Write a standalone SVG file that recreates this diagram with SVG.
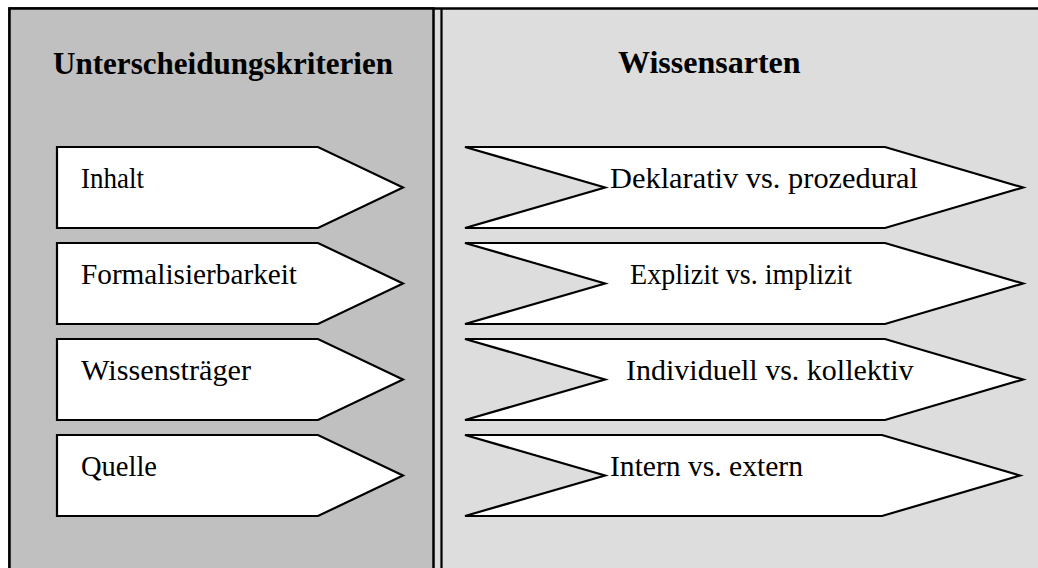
<svg xmlns="http://www.w3.org/2000/svg" width="1038" height="568" viewBox="0 0 1038 568">
<style>
.panel{stroke:#000;stroke-width:2.5}
.arrow{fill:#fff;stroke:#000;stroke-width:2.2;stroke-linejoin:miter}
.title{font-family:"Liberation Serif","Times New Roman",serif;font-weight:bold;font-size:32px;fill:#000}
.lbl{font-family:"Liberation Serif","Times New Roman",serif;font-size:30px;fill:#000}
.rlbl{font-family:"Liberation Serif","Times New Roman",serif;font-size:30px;fill:#000}
</style>
<g id="background">
<rect x="9.5" y="8.5" width="1040" height="600" fill="#dddddd" class="panel"/>
</g>
<g id="panel-left">
<rect x="9.5" y="8.5" width="424" height="600" fill="#c0c0c0" class="panel"/>
<text class="title" x="53" y="74" textLength="340" lengthAdjust="spacingAndGlyphs">Unterscheidungskriterien</text>
</g>
<g id="panel-right">
<line x1="441.5" y1="8" x2="441.5" y2="570" stroke="#000" stroke-width="2.2"/>
<text class="title" x="618" y="73">Wissensarten</text>
</g>
<g id="criterion-inhalt">
<path class="arrow" d="M57,147 H318 L403,187.5 L318,228 H57 Z"/>
<text class="lbl" x="81" y="188" textLength="63" lengthAdjust="spacingAndGlyphs">Inhalt</text>
</g>
<g id="criterion-formalisierbarkeit">
<path class="arrow" d="M57,243 H318 L403,283.5 L318,324 H57 Z"/>
<text class="lbl" x="81" y="284" textLength="216" lengthAdjust="spacingAndGlyphs">Formalisierbarkeit</text>
</g>
<g id="criterion-wissenstraeger">
<path class="arrow" d="M57,339 H318 L403,379.5 L318,420 H57 Z"/>
<text class="lbl" x="81" y="380" textLength="170" lengthAdjust="spacingAndGlyphs">Wissensträger</text>
</g>
<g id="criterion-quelle">
<path class="arrow" d="M57,435 H318 L403,475.5 L318,516 H57 Z"/>
<text class="lbl" x="81" y="476" textLength="76" lengthAdjust="spacingAndGlyphs">Quelle</text>
</g>
<g id="art-deklarativ">
<path class="arrow" d="M465,147 H885 L1023,187.5 L885,228 H465 L605,187.5 Z"/>
<text class="rlbl" x="610" y="188" textLength="308" lengthAdjust="spacingAndGlyphs">Deklarativ vs. prozedural</text>
</g>
<g id="art-explizit">
<path class="arrow" d="M465,243 H885 L1023,283.5 L885,324 H465 L605,283.5 Z"/>
<text class="rlbl" x="630" y="284" textLength="222" lengthAdjust="spacingAndGlyphs">Explizit vs. implizit</text>
</g>
<g id="art-individuell">
<path class="arrow" d="M465,339 H885 L1023,379.5 L885,420 H465 L605,379.5 Z"/>
<text class="rlbl" x="626" y="380">Individuell vs. kollektiv</text>
</g>
<g id="art-intern">
<path class="arrow" d="M465,435 H882 L1020,475.5 L882,516 H465 L605,475.5 Z"/>
<text class="rlbl" x="610" y="476" textLength="193" lengthAdjust="spacingAndGlyphs">Intern vs. extern</text>
</g>
<g id="connectors"></g>
</svg>
